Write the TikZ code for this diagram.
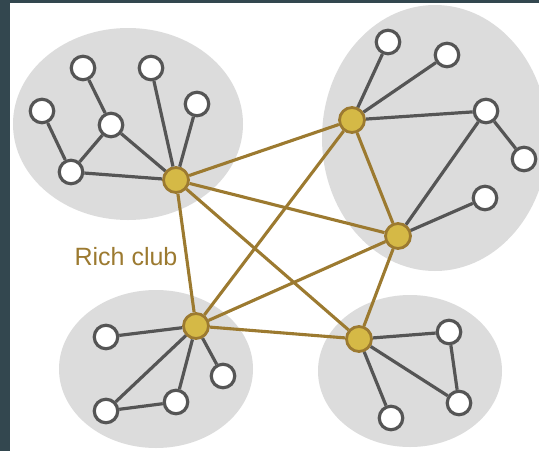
\documentclass[tikz,border=0pt]{standalone}
\usepackage{fontspec}
\setmainfont{Liberation Sans}
\usepackage{xcolor}
\usetikzlibrary{positioning}

\definecolor{slidebg}{HTML}{33474F}
\definecolor{moduleGrey}{HTML}{DCDCDC}
\definecolor{linkGrey}{HTML}{555555}
\definecolor{clubGold}{HTML}{D5B946}
\definecolor{clubBrown}{HTML}{9C7A30}

\begin{document}
\begin{tikzpicture}[
    x=1pt, y=-1pt,
    member/.style={circle, draw=linkGrey, fill=white, line width=3.2pt, minimum size=23.5pt, inner sep=0pt},
    hub/.style={circle, draw=clubBrown, fill=clubGold, line width=2.8pt, minimum size=25pt, inner sep=0pt},
    link/.style={draw=linkGrey, line width=3.2pt},
    richlink/.style={draw=clubBrown, line width=3.1pt}
]
\useasboundingbox (0,0) rectangle (539,451);
\fill[slidebg] (0,0) rectangle (539,451);
\fill[white] (10,3) rectangle (539,451);

% Grey modules
\begin{scope}
\clip (10,3) rectangle (539,451);
\fill[moduleGrey] (128,124) ellipse [x radius=115pt, y radius=96pt];
\fill[moduleGrey] (435,138) ellipse [x radius=113pt, y radius=133pt];
\fill[moduleGrey] (156,369) ellipse [x radius=97pt, y radius=79pt];
\fill[moduleGrey] (410,371) ellipse [x radius=92pt, y radius=76pt];
\end{scope}

% Rich club hubs
\node[hub] (h1) at (176,180) {};
\node[hub] (h2) at (352,120) {};
\node[hub] (h3) at (398,236) {};
\node[hub] (h4) at (196,326) {};
\node[hub] (h5) at (359,339) {};

% Top left module
\node[member] (t1) at (83,68) {};
\node[member] (t2) at (151,68) {};
\node[member] (t3) at (42,111) {};
\node[member] (t4) at (111,125) {};
\node[member] (t5) at (197,104) {};
\node[member] (t6) at (71,172) {};

% Top right module
\node[member] (r1) at (388,42) {};
\node[member] (r2) at (447,55) {};
\node[member] (r3) at (486,111) {};
\node[member] (r4) at (524,159) {};
\node[member] (r5) at (485,198) {};

% Bottom left module
\node[member] (l1) at (106,337) {};
\node[member] (l2) at (106,411) {};
\node[member] (l3) at (176,402) {};
\node[member] (l4) at (223,376) {};

% Bottom right module
\node[member] (b1) at (449,332) {};
\node[member] (b2) at (459,403) {};
\node[member] (b3) at (391,418) {};

% Local links
\draw[link] (t1) -- (t4);
\draw[link] (t3) -- (t6);
\draw[link] (t6) -- (t4);
\draw[link] (t4) -- (h1);
\draw[link] (t6) -- (h1);
\draw[link] (t2) -- (h1);
\draw[link] (t5) -- (h1);

\draw[link] (h2) -- (r1);
\draw[link] (h2) -- (r2);
\draw[link] (h2) -- (r3);
\draw[link] (r3) -- (r4);
\draw[link] (r3) -- (h3);
\draw[link] (r5) -- (h3);

\draw[link] (h4) -- (l1);
\draw[link] (h4) -- (l2);
\draw[link] (h4) -- (l3);
\draw[link] (h4) -- (l4);
\draw[link] (l2) -- (l3);

\draw[link] (h5) -- (b1);
\draw[link] (h5) -- (b2);
\draw[link] (b1) -- (b2);
\draw[link] (h5) -- (b3);

% Rich club links
\draw[richlink] (h1) -- (h2);
\draw[richlink] (h1) -- (h3);
\draw[richlink] (h1) -- (h4);
\draw[richlink] (h1) -- (h5);
\draw[richlink] (h2) -- (h4);
\draw[richlink] (h2) -- (h3);
\draw[richlink] (h3) -- (h4);
\draw[richlink] (h3) -- (h5);
\draw[richlink] (h4) -- (h5);

% Label
\node[anchor=base, text=clubBrown, font=\fontsize{25}{30}\selectfont, inner sep=0pt] (label) at (126,265) {Rich club};
\end{tikzpicture}
\end{document}
